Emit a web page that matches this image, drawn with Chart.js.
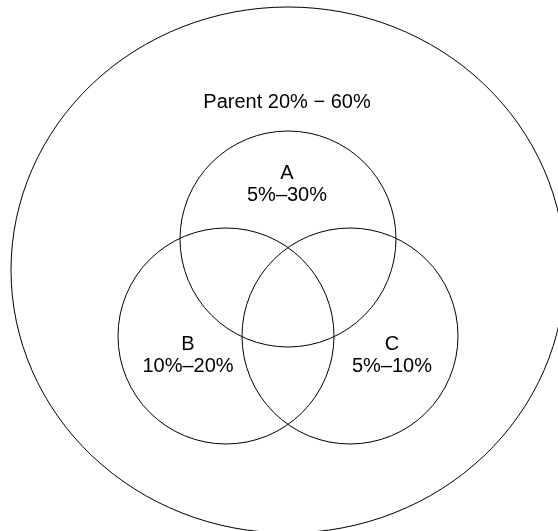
<!DOCTYPE html>
<html>
<head>
<meta charset="utf-8">
<script src="https://cdn.jsdelivr.net/npm/chart.js@4"></script>
<style>
  html, body { margin: 0; padding: 0; background: #fff; }
  #wrap { width: 558px; height: 531px; }
</style>
</head>
<body>
<div id="wrap"><canvas id="venn" width="558" height="531"></canvas></div>
<script>
// Sets of the diagram (data units, big set centred at 0,0)
var setNames   = ['Parent', 'A', 'B', 'C'];
var setRanges  = ['20% \u2212 60%', '5%\u201330%', '10%\u201320%', '5%\u201310%'];
var setCenterX = [0, 0, -62, 62];
var setCenterY = [0, 31, -66, -66];
var setRadiusX = [277, 108, 108, 108];
var setRadiusY = [263, 108, 108, 108];

// where each set's text sits (data units)
var labelX = [-1, -1, -100, 104];
var labelY = [168, 97, -74, -74];

var vennPlugin = {
    id: 'vennShapes',
    afterDatasetsDraw: function (chart) {
        var ctx = chart.ctx;
        var xs = chart.scales.x, ys = chart.scales.y;
        ctx.save();
        ctx.strokeStyle = '#000';
        ctx.lineWidth = 1;
        for (var i = 0; i < setNames.length; i++) {
            var cx = xs.getPixelForValue(setCenterX[i]);
            var cy = ys.getPixelForValue(setCenterY[i]);
            var rx = Math.abs(xs.getPixelForValue(setCenterX[i] + setRadiusX[i]) - cx);
            var ry = Math.abs(ys.getPixelForValue(setCenterY[i] + setRadiusY[i]) - cy);
            ctx.beginPath();
            ctx.ellipse(cx, cy, rx, ry, 0, 0, Math.PI * 2);
            ctx.stroke();
        }
        // texts
        ctx.fillStyle = '#000';
        ctx.font = '20px "Liberation Sans", Arial, sans-serif';
        ctx.textAlign = 'center';
        ctx.textBaseline = 'middle';
        for (var j = 0; j < setNames.length; j++) {
            var lx = xs.getPixelForValue(labelX[j]);
            var ly = ys.getPixelForValue(labelY[j]);
            if (j === 0) {
                ctx.fillText(setNames[j] + ' ' + setRanges[j], lx, ly);
            } else {
                ctx.fillText(setNames[j], lx, ly);
                ctx.fillText(setRanges[j], lx, ly + 22);
            }
        }
        ctx.restore();
    }
};

var chart = new Chart(document.getElementById('venn'), {
    type: 'scatter',
    data: { datasets: [] },
    options: {
        responsive: false,
        animation: false,
        events: [],
        layout: { padding: 0 },
        scales: {
            x: { type: 'linear', min: -288, max: 270, display: false },
            y: { type: 'linear', min: -261, max: 270, display: false }
        },
        plugins: {
            legend: { display: false },
            tooltip: { enabled: false }
        }
    },
    plugins: [vennPlugin]
});
</script>
</body>
</html>
